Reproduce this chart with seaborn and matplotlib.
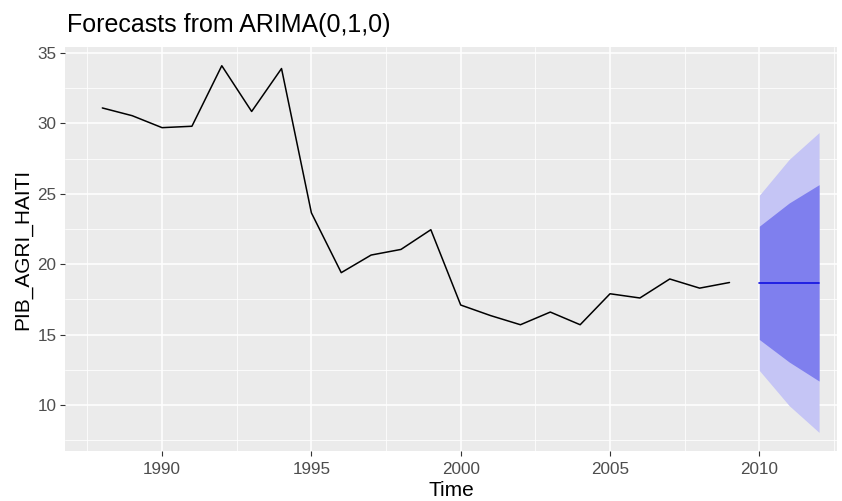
# Forecast plot for PIB_AGRI_HAITI, ggplot-like style with seaborn
import numpy as np
import pandas as pd
import seaborn as sns
import matplotlib.pyplot as plt
from matplotlib.ticker import MultipleLocator

years = list(range(1988, 2010))
pib_agri = [31.1, 30.55, 29.7, 29.8, 34.1, 30.85, 33.9, 23.65, 19.4, 20.65, 21.05,
            22.45, 17.1, 16.35, 15.7, 16.6, 15.7, 17.9, 17.6, 18.95, 18.3, 18.7]

fc_years = [2010, 2011, 2012]
fc_mean = [18.7, 18.7, 18.7]
lo80 = [14.65, 13.05, 11.7]
hi80 = [22.7, 24.35, 25.65]
lo95 = [12.45, 9.95, 8.05]
hi95 = [24.9, 27.45, 29.35]

hist = pd.DataFrame({"Time": years, "value": pib_agri})
fc = pd.DataFrame({"Time": fc_years, "mean": fc_mean,
                   "lo80": lo80, "hi80": hi80, "lo95": lo95, "hi95": hi95})

sns.set_theme(style="darkgrid", rc={
    "axes.facecolor": "#EBEBEB",
    "grid.color": "white",
})
plt.rcParams["font.family"] = ["Liberation Sans", "DejaVu Sans"]

fig = plt.figure(figsize=(8.42, 5.01), dpi=100)
ax = fig.add_axes([65 / 842, 1 - 451 / 501, (837 - 65) / 842, (451 - 47) / 501])

ax.fill_between(fc["Time"], fc["lo95"], fc["hi95"], color="#C5C5F5", lw=0, zorder=2)
ax.fill_between(fc["Time"], fc["lo80"], fc["hi80"], color="#7F7FEE", lw=0, zorder=3)
sns.lineplot(data=hist, x="Time", y="value", ax=ax, color="black", lw=1.1, zorder=4)
sns.lineplot(data=fc, x="Time", y="mean", ax=ax, color="#1010E0", lw=1.2, zorder=5)

ax.set_xlim(1986.75, 2012.6)
ax.set_ylim(6.73, 35.43)
ax.xaxis.set_major_locator(MultipleLocator(5))
ax.xaxis.set_minor_locator(MultipleLocator(2.5))
ax.yaxis.set_major_locator(MultipleLocator(5))
ax.yaxis.set_minor_locator(MultipleLocator(2.5))
ax.grid(which="major", color="white", lw=1.1)
ax.grid(which="minor", color="white", lw=0.55)
for s in ax.spines.values():
    s.set_visible(False)

ax.tick_params(which="major", length=3.6, width=0.8, color="#333333",
               labelcolor="#4D4D4D", labelsize=12.3, bottom=True, left=True)
ax.tick_params(axis="x", which="major", pad=4.5)
ax.tick_params(axis="y", which="major", pad=2.5)
ax.tick_params(which="minor", length=0)

ax.set_xlabel("Time", fontsize=15, color="black", labelpad=3)
ax.set_ylabel("PIB_AGRI_HAITI", fontsize=15, color="black", labelpad=4)
ax.set_title("Forecasts from ARIMA(0,1,0)", loc="left", fontsize=18, color="black",
             pad=11, x=0.002)

fig.savefig("out.png", dpi=100)
